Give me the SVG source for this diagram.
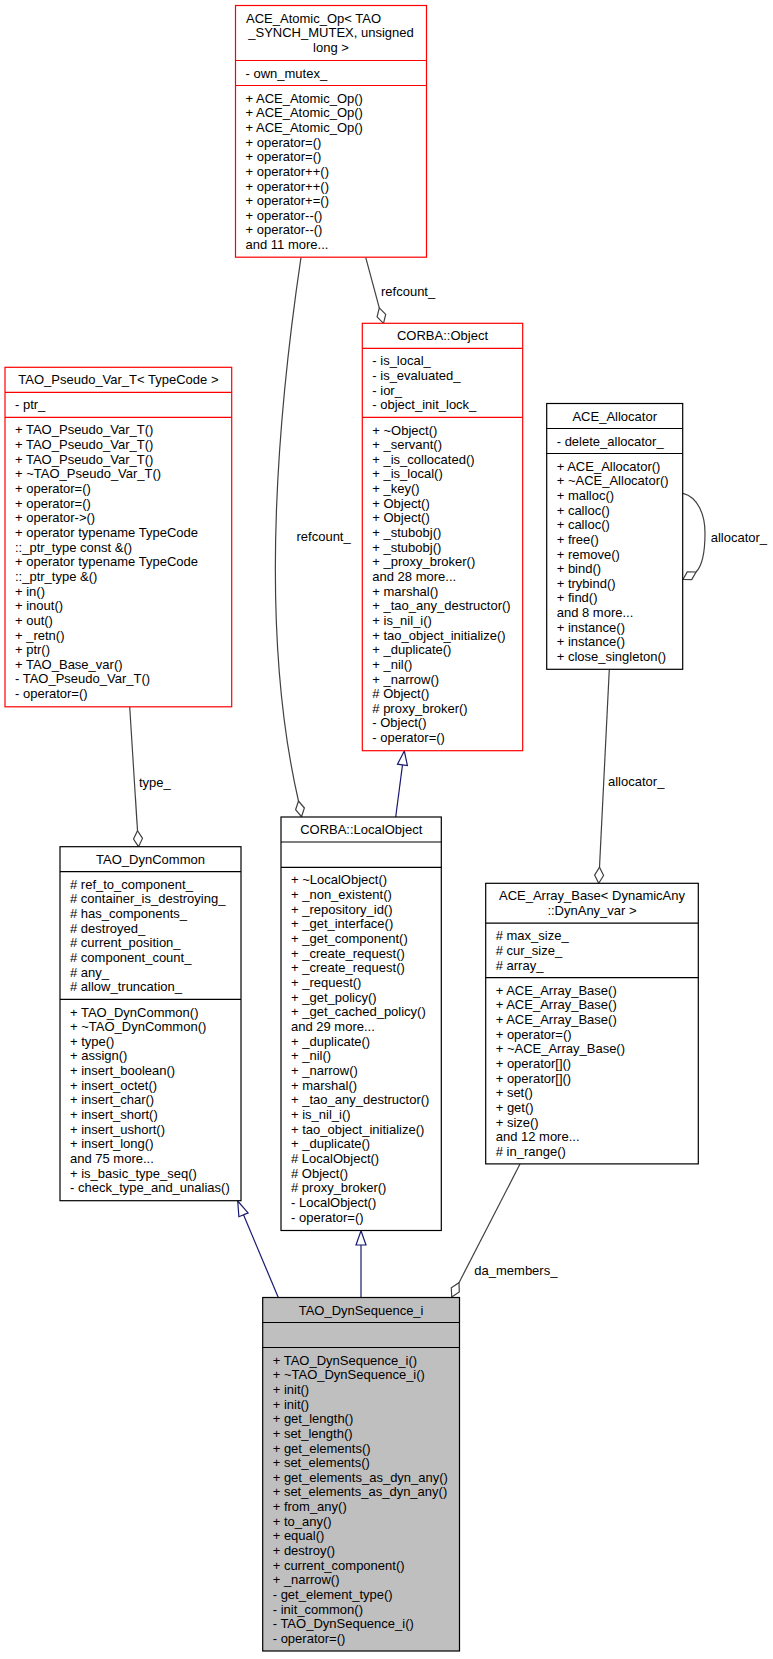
<svg xmlns="http://www.w3.org/2000/svg" width="773" height="1659" viewBox="0 0 773 1659">
<style>
text{font-family:"Liberation Sans",Arial,sans-serif;font-size:13px;fill:#000}
.c{text-anchor:middle}
.red{fill:#fff;stroke:#ff0000;stroke-width:1.2}
.blk{fill:#fff;stroke:#000;stroke-width:1.2}
.gry{fill:#bfbfbf;stroke:#000;stroke-width:1.2}
.sr{stroke:#ff0000;stroke-width:1.2}
.sb{stroke:#000;stroke-width:1.2}
.assoc{fill:none;stroke:#404040;stroke-width:1.2}
.dia{fill:#fff;stroke:#404040;stroke-width:1.2}
.inh{fill:none;stroke:#191970;stroke-width:1.2}
.tri{fill:#fff;stroke:#191970;stroke-width:1.2}
</style>
<rect width="773" height="1659" fill="#fff"/>
<g id="connectors">
  <path class="assoc" d="M365.7,257.3 L379.3,307.9"/>
  <polygon class="dia" points="383.5,323.3 385.7,314.4 379.3,307.9 377.1,316.8"/>
  <text x="381" y="295.5">refcount_</text>
  <path class="assoc" d="M301,257.3 C268,480 266,660 298.5,801"/>
  <polygon class="dia" points="301.5,816.7 304.4,808 298.5,801 295.6,809.7"/>
  <text x="296.5" y="541">refcount_</text>
  <path class="assoc" d="M129.7,707 L137.5,830.7"/>
  <polygon class="dia" points="138.5,846.7 142.5,838.4 137.5,830.7 133.5,839"/>
  <text x="139" y="787">type_</text>
  <path class="assoc" d="M683,493.3 C698,497 705,515 705,533 C705,553 702,566 696,572"/>
  <polygon class="dia" points="683,579.5 691.75,579.65 696,572 687.25,571.85"/>
  <text x="710.7" y="542">allocator_</text>
  <path class="assoc" d="M609.3,669.3 L599.5,867.3"/>
  <polygon class="dia" points="598.7,883.3 603.6,875.5 599.5,867.3 594.6,875.1"/>
  <text x="608" y="786">allocator_</text>
  <path class="assoc" d="M520,1164 L459,1282.7"/>
  <polygon class="dia" points="451.7,1297 459.3,1291.9 459,1282.7 451.3,1287.8"/>
  <text x="474.3" y="1274.5">da_members_</text>
  <path class="inh" d="M395.7,817 L402.5,764.9"/>
  <polygon class="tri" points="404.3,751 407.4,765.5 397.5,764.2"/>
  <path class="inh" d="M278.3,1297.5 L243.5,1214.8"/>
  <polygon class="tri" points="237.7,1201 248.1,1212.9 238.9,1216.7"/>
  <path class="inh" d="M361,1297.5 L361,1245"/>
  <polygon class="tri" points="361,1230.7 366,1245 356,1245"/>
</g>
<g id="ACE_Atomic_Op">
  <rect class="red" x="235.5" y="5.5" width="191" height="251.7"/>
  <line class="sr" x1="235.5" y1="60.5" x2="426.5" y2="60.5"/>
  <line class="sr" x1="235.5" y1="85.5" x2="426.5" y2="85.5"/>
  <text x="246" y="22.6">ACE_Atomic_Op&lt; TAO</text>
  <text class="c" x="331" y="37.25">_SYNCH_MUTEX, unsigned</text>
  <text class="c" x="331" y="51.9">long &gt;</text>
  <text x="245.5" y="77.6">- own_mutex_</text>
  <text x="245.5" y="102.6"><tspan x="245.5">+ ACE_Atomic_Op()</tspan><tspan x="245.5" dy="14.65">+ ACE_Atomic_Op()</tspan><tspan x="245.5" dy="14.65">+ ACE_Atomic_Op()</tspan><tspan x="245.5" dy="14.65">+ operator=()</tspan><tspan x="245.5" dy="14.65">+ operator=()</tspan><tspan x="245.5" dy="14.65">+ operator++()</tspan><tspan x="245.5" dy="14.65">+ operator++()</tspan><tspan x="245.5" dy="14.65">+ operator+=()</tspan><tspan x="245.5" dy="14.65">+ operator--()</tspan><tspan x="245.5" dy="14.65">+ operator--()</tspan><tspan x="245.5" dy="14.65">and 11 more...</tspan></text>
</g>
<g id="CORBA_Object">
  <rect class="red" x="362.3" y="323.3" width="160.4" height="427.4"/>
  <line class="sr" x1="362.3" y1="348.3" x2="522.7" y2="348.3"/>
  <line class="sr" x1="362.3" y1="417.4" x2="522.7" y2="417.4"/>
  <text class="c" x="442.5" y="340.4">CORBA::Object</text>
  <text x="372.3" y="365.4"><tspan x="372.3">- is_local_</tspan><tspan x="372.3" dy="14.65">- is_evaluated_</tspan><tspan x="372.3" dy="14.65">- ior_</tspan><tspan x="372.3" dy="14.65">- object_init_lock_</tspan></text>
  <text x="372.3" y="434.5"><tspan x="372.3">+ ~Object()</tspan><tspan x="372.3" dy="14.65">+ _servant()</tspan><tspan x="372.3" dy="14.65">+ _is_collocated()</tspan><tspan x="372.3" dy="14.65">+ _is_local()</tspan><tspan x="372.3" dy="14.65">+ _key()</tspan><tspan x="372.3" dy="14.65">+ Object()</tspan><tspan x="372.3" dy="14.65">+ Object()</tspan><tspan x="372.3" dy="14.65">+ _stubobj()</tspan><tspan x="372.3" dy="14.65">+ _stubobj()</tspan><tspan x="372.3" dy="14.65">+ _proxy_broker()</tspan><tspan x="372.3" dy="14.65">and 28 more...</tspan><tspan x="372.3" dy="14.65">+ marshal()</tspan><tspan x="372.3" dy="14.65">+ _tao_any_destructor()</tspan><tspan x="372.3" dy="14.65">+ is_nil_i()</tspan><tspan x="372.3" dy="14.65">+ tao_object_initialize()</tspan><tspan x="372.3" dy="14.65">+ _duplicate()</tspan><tspan x="372.3" dy="14.65">+ _nil()</tspan><tspan x="372.3" dy="14.65">+ _narrow()</tspan><tspan x="372.3" dy="14.65"># Object()</tspan><tspan x="372.3" dy="14.65"># proxy_broker()</tspan><tspan x="372.3" dy="14.65">- Object()</tspan><tspan x="372.3" dy="14.65">- operator=()</tspan></text>
</g>
<g id="TAO_Pseudo_Var_T">
  <rect class="red" x="5" y="367.3" width="226.7" height="339.5"/>
  <line class="sr" x1="5" y1="392.3" x2="231.7" y2="392.3"/>
  <line class="sr" x1="5" y1="417.3" x2="231.7" y2="417.3"/>
  <text class="c" x="118.4" y="384.4">TAO_Pseudo_Var_T&lt; TypeCode &gt;</text>
  <text x="15" y="409.4">- ptr_</text>
  <text x="15" y="434.4"><tspan x="15">+ TAO_Pseudo_Var_T()</tspan><tspan x="15" dy="14.65">+ TAO_Pseudo_Var_T()</tspan><tspan x="15" dy="14.65">+ TAO_Pseudo_Var_T()</tspan><tspan x="15" dy="14.65">+ ~TAO_Pseudo_Var_T()</tspan><tspan x="15" dy="14.65">+ operator=()</tspan><tspan x="15" dy="14.65">+ operator=()</tspan><tspan x="15" dy="14.65">+ operator-&gt;()</tspan><tspan x="15" dy="14.65">+ operator typename TypeCode</tspan><tspan x="15" dy="14.65">::_ptr_type const &amp;()</tspan><tspan x="15" dy="14.65">+ operator typename TypeCode</tspan><tspan x="15" dy="14.65">::_ptr_type &amp;()</tspan><tspan x="15" dy="14.65">+ in()</tspan><tspan x="15" dy="14.65">+ inout()</tspan><tspan x="15" dy="14.65">+ out()</tspan><tspan x="15" dy="14.65">+ _retn()</tspan><tspan x="15" dy="14.65">+ ptr()</tspan><tspan x="15" dy="14.65">+ TAO_Base_var()</tspan><tspan x="15" dy="14.65">- TAO_Pseudo_Var_T()</tspan><tspan x="15" dy="14.65">- operator=()</tspan></text>
</g>
<g id="ACE_Allocator">
  <rect class="blk" x="546.7" y="403.5" width="136" height="265.8"/>
  <line class="sb" x1="546.7" y1="428.5" x2="682.7" y2="428.5"/>
  <line class="sb" x1="546.7" y1="453.5" x2="682.7" y2="453.5"/>
  <text class="c" x="614.7" y="420.6">ACE_Allocator</text>
  <text x="556.7" y="445.6">- delete_allocator_</text>
  <text x="556.7" y="470.6"><tspan x="556.7">+ ACE_Allocator()</tspan><tspan x="556.7" dy="14.65">+ ~ACE_Allocator()</tspan><tspan x="556.7" dy="14.65">+ malloc()</tspan><tspan x="556.7" dy="14.65">+ calloc()</tspan><tspan x="556.7" dy="14.65">+ calloc()</tspan><tspan x="556.7" dy="14.65">+ free()</tspan><tspan x="556.7" dy="14.65">+ remove()</tspan><tspan x="556.7" dy="14.65">+ bind()</tspan><tspan x="556.7" dy="14.65">+ trybind()</tspan><tspan x="556.7" dy="14.65">+ find()</tspan><tspan x="556.7" dy="14.65">and 8 more...</tspan><tspan x="556.7" dy="14.65">+ instance()</tspan><tspan x="556.7" dy="14.65">+ instance()</tspan><tspan x="556.7" dy="14.65">+ close_singleton()</tspan></text>
</g>
<g id="TAO_DynCommon">
  <rect class="blk" x="60" y="846.7" width="181" height="354"/>
  <line class="sb" x1="60" y1="871.7" x2="241" y2="871.7"/>
  <line class="sb" x1="60" y1="999.4" x2="241" y2="999.4"/>
  <text class="c" x="150.5" y="863.8">TAO_DynCommon</text>
  <text x="70" y="888.8"><tspan x="70"># ref_to_component_</tspan><tspan x="70" dy="14.65"># container_is_destroying_</tspan><tspan x="70" dy="14.65"># has_components_</tspan><tspan x="70" dy="14.65"># destroyed_</tspan><tspan x="70" dy="14.65"># current_position_</tspan><tspan x="70" dy="14.65"># component_count_</tspan><tspan x="70" dy="14.65"># any_</tspan><tspan x="70" dy="14.65"># allow_truncation_</tspan></text>
  <text x="70" y="1016.5"><tspan x="70">+ TAO_DynCommon()</tspan><tspan x="70" dy="14.65">+ ~TAO_DynCommon()</tspan><tspan x="70" dy="14.65">+ type()</tspan><tspan x="70" dy="14.65">+ assign()</tspan><tspan x="70" dy="14.65">+ insert_boolean()</tspan><tspan x="70" dy="14.65">+ insert_octet()</tspan><tspan x="70" dy="14.65">+ insert_char()</tspan><tspan x="70" dy="14.65">+ insert_short()</tspan><tspan x="70" dy="14.65">+ insert_ushort()</tspan><tspan x="70" dy="14.65">+ insert_long()</tspan><tspan x="70" dy="14.65">and 75 more...</tspan><tspan x="70" dy="14.65">+ is_basic_type_seq()</tspan><tspan x="70" dy="14.65">- check_type_and_unalias()</tspan></text>
</g>
<g id="CORBA_LocalObject">
  <rect class="blk" x="281" y="817" width="160.3" height="413.5"/>
  <line class="sb" x1="281" y1="842" x2="441.3" y2="842"/>
  <line class="sb" x1="281" y1="867.3" x2="441.3" y2="867.3"/>
  <text class="c" x="361.2" y="834.1">CORBA::LocalObject</text>
  <text x="291" y="884.4"><tspan x="291">+ ~LocalObject()</tspan><tspan x="291" dy="14.67">+ _non_existent()</tspan><tspan x="291" dy="14.67">+ _repository_id()</tspan><tspan x="291" dy="14.67">+ _get_interface()</tspan><tspan x="291" dy="14.67">+ _get_component()</tspan><tspan x="291" dy="14.67">+ _create_request()</tspan><tspan x="291" dy="14.67">+ _create_request()</tspan><tspan x="291" dy="14.67">+ _request()</tspan><tspan x="291" dy="14.67">+ _get_policy()</tspan><tspan x="291" dy="14.67">+ _get_cached_policy()</tspan><tspan x="291" dy="14.67">and 29 more...</tspan><tspan x="291" dy="14.67">+ _duplicate()</tspan><tspan x="291" dy="14.67">+ _nil()</tspan><tspan x="291" dy="14.67">+ _narrow()</tspan><tspan x="291" dy="14.67">+ marshal()</tspan><tspan x="291" dy="14.67">+ _tao_any_destructor()</tspan><tspan x="291" dy="14.67">+ is_nil_i()</tspan><tspan x="291" dy="14.67">+ tao_object_initialize()</tspan><tspan x="291" dy="14.67">+ _duplicate()</tspan><tspan x="291" dy="14.67"># LocalObject()</tspan><tspan x="291" dy="14.67"># Object()</tspan><tspan x="291" dy="14.67"># proxy_broker()</tspan><tspan x="291" dy="14.67">- LocalObject()</tspan><tspan x="291" dy="14.67">- operator=()</tspan></text>
</g>
<g id="ACE_Array_Base">
  <rect class="blk" x="485.7" y="883.3" width="212.6" height="280.6"/>
  <line class="sb" x1="485.7" y1="923.1" x2="698.3" y2="923.1"/>
  <line class="sb" x1="485.7" y1="977.6" x2="698.3" y2="977.6"/>
  <text class="c" x="592" y="900.4">ACE_Array_Base&lt; DynamicAny</text>
  <text class="c" x="592" y="915.05">::DynAny_var &gt;</text>
  <text x="495.7" y="940.2"><tspan x="495.7"># max_size_</tspan><tspan x="495.7" dy="14.65"># cur_size_</tspan><tspan x="495.7" dy="14.65"># array_</tspan></text>
  <text x="495.7" y="994.7"><tspan x="495.7">+ ACE_Array_Base()</tspan><tspan x="495.7" dy="14.65">+ ACE_Array_Base()</tspan><tspan x="495.7" dy="14.65">+ ACE_Array_Base()</tspan><tspan x="495.7" dy="14.65">+ operator=()</tspan><tspan x="495.7" dy="14.65">+ ~ACE_Array_Base()</tspan><tspan x="495.7" dy="14.65">+ operator[]()</tspan><tspan x="495.7" dy="14.65">+ operator[]()</tspan><tspan x="495.7" dy="14.65">+ set()</tspan><tspan x="495.7" dy="14.65">+ get()</tspan><tspan x="495.7" dy="14.65">+ size()</tspan><tspan x="495.7" dy="14.65">and 12 more...</tspan><tspan x="495.7" dy="14.65"># in_range()</tspan></text>
</g>
<g id="TAO_DynSequence_i">
  <rect class="gry" x="262.7" y="1297.5" width="196.8" height="353.5"/>
  <line class="sb" x1="262.7" y1="1322.5" x2="459.5" y2="1322.5"/>
  <line class="sb" x1="262.7" y1="1347.5" x2="459.5" y2="1347.5"/>
  <text class="c" x="361.1" y="1314.6">TAO_DynSequence_i</text>
  <text x="272.7" y="1364.6"><tspan x="272.7">+ TAO_DynSequence_i()</tspan><tspan x="272.7" dy="14.65">+ ~TAO_DynSequence_i()</tspan><tspan x="272.7" dy="14.65">+ init()</tspan><tspan x="272.7" dy="14.65">+ init()</tspan><tspan x="272.7" dy="14.65">+ get_length()</tspan><tspan x="272.7" dy="14.65">+ set_length()</tspan><tspan x="272.7" dy="14.65">+ get_elements()</tspan><tspan x="272.7" dy="14.65">+ set_elements()</tspan><tspan x="272.7" dy="14.65">+ get_elements_as_dyn_any()</tspan><tspan x="272.7" dy="14.65">+ set_elements_as_dyn_any()</tspan><tspan x="272.7" dy="14.65">+ from_any()</tspan><tspan x="272.7" dy="14.65">+ to_any()</tspan><tspan x="272.7" dy="14.65">+ equal()</tspan><tspan x="272.7" dy="14.65">+ destroy()</tspan><tspan x="272.7" dy="14.65">+ current_component()</tspan><tspan x="272.7" dy="14.65">+ _narrow()</tspan><tspan x="272.7" dy="14.65">- get_element_type()</tspan><tspan x="272.7" dy="14.65">- init_common()</tspan><tspan x="272.7" dy="14.65">- TAO_DynSequence_i()</tspan><tspan x="272.7" dy="14.65">- operator=()</tspan></text>
</g>
</svg>
